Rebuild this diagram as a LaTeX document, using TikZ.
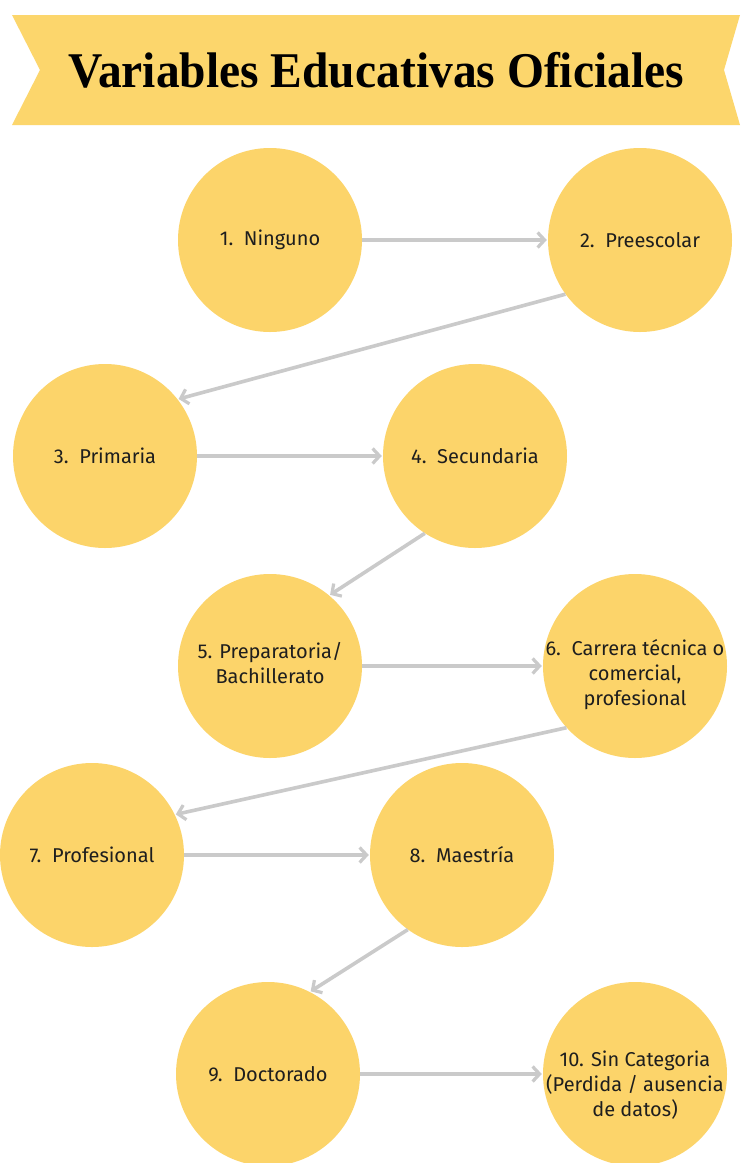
\documentclass[tikz,border=0pt]{standalone}
\usepackage{fontspec}
\usepackage{graphicx}
\setmainfont{Fira Sans}
\newfontfamily\titlefont{Liberation Serif}
\usetikzlibrary{arrows.meta}
\definecolor{circ}{HTML}{FCD46A}
\definecolor{ban}{HTML}{FCD66C}
\definecolor{arr}{HTML}{CACACA}
\definecolor{txt}{HTML}{1E1E1E}
\begin{document}
\begin{tikzpicture}[x=1pt,y=-1pt,
  circ/.style={circle,fill=circ,draw=none,minimum size=184pt,inner sep=0pt},
  lbl/.style={align=center,inner sep=0pt,text=txt,font=\fontsize{20}{25}\selectfont},
  link/.style={draw=arr,line width=3.6pt,-{Straight Barb[length=7pt,width=15pt,line width=3.2pt]},shorten >=1pt}]
\useasboundingbox (0,0) rectangle (740,1163);
\fill[white] (0,0) rectangle (740,1163);
% banner
\fill[ban] (12,15) -- (740,15) -- (724,70) -- (740,125) -- (12,125) -- (40,70) -- cycle;
\node (title) at (376,70) {\titlefont\bfseries\fontsize{50}{56}\selectfont\scalebox{0.95}[1]{Variables Educativas Oficiales}};
% circles
\node[circ] (c1) at (270,240) {};
\node[circ] (c2) at (640,240) {};
\node[circ] (c3) at (105,456) {};
\node[circ] (c4) at (475,456) {};
\node[circ] (c5) at (270,666) {};
\node[circ] (c6) at (635,666) {};
\node[circ] (c7) at (92,855) {};
\node[circ] (c8) at (462,855) {};
\node[circ] (c9) at (268,1074) {};
\node[circ] (c10) at (635,1074) {};
% texts
\node[lbl] (t1) at (c1) {1.\ \ Ninguno};
\node[lbl] (t2) at (c2) {2.\ \ Preescolar};
\node[lbl] (t3) at (c3) {3.\ \ Primaria};
\node[lbl] (t4) at (c4) {4.\ \ Secundaria};
\node[lbl] (t5) at ([yshift=3pt]c5) {5. Preparatoria/\\Bachillerato};
\node[lbl] (t6) at ([yshift=-9pt]c6) {6.\ \ Carrera técnica o\\comercial,\\profesional};
\node[lbl] (t7) at (c7) {7.\ \ Profesional};
\node[lbl] (t8) at (c8) {8.\ \ Maestría};
\node[lbl] (t9) at (c9) {9.\ \ Doctorado};
\node[lbl] (t10) at ([yshift=-11pt]c10) {10. Sin Categoria\\(Perdida / ausencia\\de datos)};
% connectors
\draw[link] (c1.east) -- (c2.west);
\draw[link] (c2.216) -- (c3.38);
\draw[link] (c3.east) -- (c4.west);
\draw[link] (c4.237) -- (c5.50);
\draw[link] (c5.east) -- (c6.west);
\draw[link] (c6.222) -- (c7.26);
\draw[link] (c7.east) -- (c8.west);
\draw[link] (c8.234) -- (c9.63);
\draw[link] (c9.east) -- (c10.west);
\end{tikzpicture}
\end{document}
